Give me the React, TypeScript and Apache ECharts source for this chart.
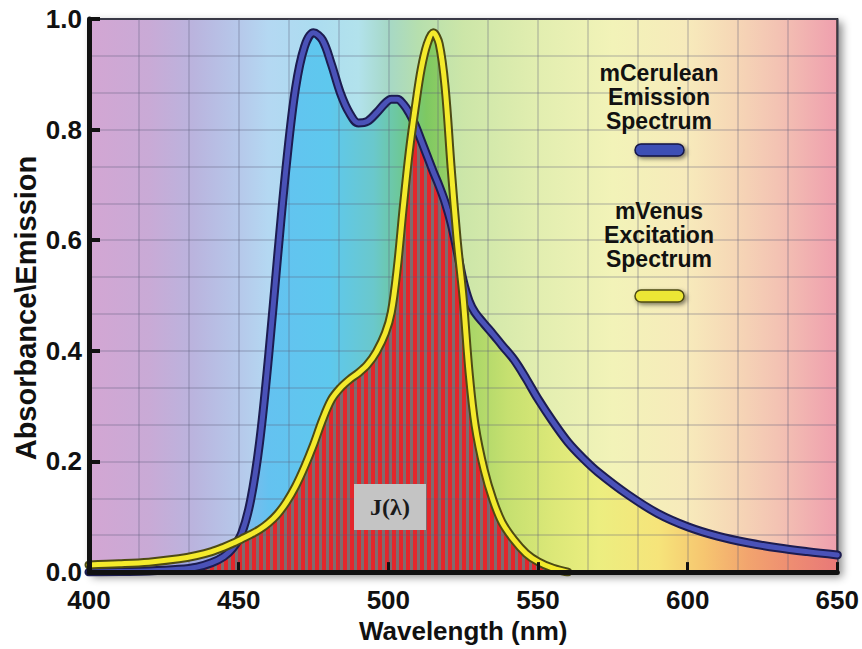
import React, { useEffect, useRef } from "react";
import * as echarts from "echarts";

// Wavelength grid (nm)
const wavelengths = [
  400, 410, 420, 430, 436, 441, 445, 448, 451, 454,
  457, 460, 463, 466, 469, 472, 475, 478, 481, 484,
  487, 490, 493, 496, 499, 501, 503, 505, 507, 509,
  511, 513, 515, 517, 519, 521, 523, 525, 527, 529,
  532, 535, 538, 542, 546, 550, 555, 560, 565, 570,
  580, 590, 600, 610, 620, 630, 640, 650,
];

// mCerulean emission spectrum
const cerulean = [
  0.0, 0.001, 0.002, 0.005, 0.009, 0.017, 0.028, 0.043, 0.07, 0.13,
  0.235, 0.39, 0.57, 0.74, 0.875, 0.95, 0.975, 0.962, 0.918, 0.866,
  0.83, 0.812, 0.815, 0.83, 0.848, 0.855, 0.855, 0.846, 0.83, 0.808,
  0.78, 0.752, 0.724, 0.698, 0.668, 0.63, 0.58, 0.527, 0.49, 0.469,
  0.449, 0.43, 0.41, 0.384, 0.35, 0.313, 0.272, 0.235, 0.206, 0.181,
  0.14, 0.106, 0.082, 0.065, 0.053, 0.044, 0.037, 0.031,
];

// mVenus excitation spectrum
const venus: (number | null)[] = [
  0.013, 0.015, 0.018, 0.024, 0.03, 0.037, 0.045, 0.052, 0.06, 0.068,
  0.077, 0.089, 0.105, 0.127, 0.155, 0.19, 0.23, 0.275, 0.312, 0.333,
  0.348, 0.36, 0.375, 0.398, 0.432, 0.47, 0.55, 0.66, 0.76, 0.84,
  0.91, 0.955, 0.975, 0.955, 0.875, 0.73, 0.6, 0.495, 0.36, 0.265,
  0.185, 0.13, 0.09, 0.058, 0.034, 0.019, 0.007, 0.0, null, null,
  null, null, null, null, null, null, null, null,
];

const yTickLabels = ["0.0", "0.2", "0.4", "0.6", "0.8", "1.0"];
const legendCerulean = "mCerulean\nEmission\nSpectrum";
const legendVenus = "mVenus\nExcitation\nSpectrum";
const overlapLabel = "J(λ)";
const xTitle = "Wavelength (nm)";
const yTitle = "Absorbance\\Emission";

const FONT = '"Liberation Sans", Arial, Helvetica, sans-serif';

export default function App() {
  const ref = useRef<HTMLDivElement>(null);

  useEffect(() => {
    const chart = echarts.init(ref.current!, null, { renderer: "svg" });

    // striped pattern for overlap integral
    const pat = document.createElement("canvas");
    pat.width = 7;
    pat.height = 8;
    const ctx = pat.getContext("2d")!;
    ctx.fillStyle = "#7e6c6f";
    ctx.fillRect(0, 0, 7, 8);
    ctx.fillStyle = "#e3262b";
    ctx.fillRect(0, 0, 4, 8);

    const left = 89;
    const right = 838;

    const paleGrad = new echarts.graphic.LinearGradient(0, 0, 1, 0, [
      { offset: 0.0, color: "#d3a6d3" },
      { offset: 0.08, color: "#c9aad6" },
      { offset: 0.14, color: "#bab4de" },
      { offset: 0.2, color: "#b6c8ea" },
      { offset: 0.24, color: "#b4d8f2" },
      { offset: 0.3, color: "#acdcf0" },
      { offset: 0.36, color: "#b2e2ec" },
      { offset: 0.4, color: "#a6d8c6" },
      { offset: 0.44, color: "#b6dfae" },
      { offset: 0.5, color: "#cce6a8" },
      { offset: 0.6, color: "#e2eeb0" },
      { offset: 0.7, color: "#f2f3b8" },
      { offset: 0.8, color: "#f7eabb" },
      { offset: 0.86, color: "#f6d8b6" },
      { offset: 0.92, color: "#f3c3b3" },
      { offset: 1.0, color: "#ef9fae" },
    ]);

    const satStops = [
      { offset: 0.0, color: "#b898d8" },
      { offset: 0.16, color: "#9aa8e2" },
      { offset: 0.2, color: "#86b8ea" },
      { offset: 0.24, color: "#64c2f0" },
      { offset: 0.32, color: "#5ec8ee" },
      { offset: 0.38, color: "#6ac8cc" },
      { offset: 0.42, color: "#6ec892" },
      { offset: 0.45, color: "#7ec862" },
      { offset: 0.5, color: "#a4d466" },
      { offset: 0.56, color: "#c6e070" },
      { offset: 0.62, color: "#dce878" },
      { offset: 0.68, color: "#ecee80" },
      { offset: 0.76, color: "#f6e47a" },
      { offset: 0.82, color: "#f6c670" },
      { offset: 0.88, color: "#f2a46e" },
      { offset: 0.94, color: "#ee8c72" },
      { offset: 1.0, color: "#e87878" },
    ];
    const satGrad = () =>
      new echarts.graphic.LinearGradient(left, 0, right, 0, satStops, true);

    const cerPairs = wavelengths.map((w, i) => [w, cerulean[i]]);
    const venPairs = wavelengths
      .map((w, i) => [w, venus[i]])
      .filter((p) => p[1] != null);
    const overlapPairs = wavelengths
      .map((w, i) => [w, venus[i] == null ? null : Math.min(cerulean[i], venus[i] as number)])
      .filter((p) => p[1] != null);

    const base = {
      type: "line",
      smooth: 0.35,
      showSymbol: false,
      silent: true,
      xAxisIndex: 0,
      yAxisIndex: 0,
    };

    const labelStyle = {
      fontSize: 26,
      fontWeight: "bold",
      color: "#111",
      fontFamily: FONT,
    };

    const lineBase = { cap: "round", join: "round" };

    chart.setOption({
      animation: false,
      grid: {
        show: true,
        left,
        top: 19,
        width: right - left,
        height: 556,
        backgroundColor: paleGrad,
        borderColor: "#222",
        borderWidth: 2,
        shadowColor: "rgba(0,0,0,0.45)",
        shadowBlur: 8,
        shadowOffsetX: 4,
        shadowOffsetY: 4,
      },
      xAxis: [
        {
          type: "value",
          min: 400,
          max: 650,
          interval: 50,
          z: 4,
          axisLine: { show: true, lineStyle: { color: "#111", width: 5 } },
          axisTick: { show: true, inside: true, length: 10, lineStyle: { color: "#111", width: 3 } },
          axisLabel: { ...labelStyle, margin: 15 },
          splitLine: { show: false },
          name: xTitle,
          nameLocation: "middle",
          nameGap: 44,
          nameTextStyle: { ...labelStyle },
        },
        {
          type: "value",
          min: 400,
          max: 650,
          interval: 50 / 3,
          z: 2,
          axisLine: { show: false },
          axisTick: { show: false },
          axisLabel: { show: false },
          splitLine: { show: true, lineStyle: { color: "rgba(90,90,120,0.24)", width: 2 } },
        },
      ],
      yAxis: [
        {
          type: "value",
          min: 0,
          max: 1,
          interval: 0.2,
          z: 4,
          axisLine: { show: true, lineStyle: { color: "#111", width: 5 } },
          axisTick: { show: true, inside: true, length: 11, lineStyle: { color: "#111", width: 4 } },
          axisLabel: {
            ...labelStyle,
            margin: 7,
            formatter: (v: number) => yTickLabels[Math.round(v / 0.2)],
          },
          splitLine: { show: false },
        },
        {
          type: "value",
          min: 0,
          max: 1,
          interval: 1 / 15,
          z: 2,
          axisLine: { show: false },
          axisTick: { show: false },
          axisLabel: { show: false },
          splitLine: { show: true, lineStyle: { color: "rgba(90,90,120,0.24)", width: 2 } },
        },
      ],
      series: [
        {
          ...base,
          name: "cerulean-area",
          z: 1,
          data: cerPairs,
          lineStyle: { width: 0 },
          areaStyle: { color: satGrad(), opacity: 1 },
        },
        {
          ...base,
          name: "venus-area",
          z: 1,
          data: venPairs,
          lineStyle: { width: 0 },
          areaStyle: { color: satGrad(), opacity: 1 },
        },
        {
          ...base,
          name: "overlap",
          z: 1,
          data: overlapPairs,
          lineStyle: { width: 0 },
          areaStyle: { color: { image: pat, repeat: "repeat" }, opacity: 1 },
        },
        {
          ...base,
          name: "mCerulean outline",
          z: 3,
          data: cerPairs,
          lineStyle: { ...lineBase, color: "#1c1c50", width: 9 },
        },
        {
          ...base,
          name: "mCerulean Emission Spectrum",
          z: 3,
          data: cerPairs,
          lineStyle: { ...lineBase, color: "#4a52b8", width: 5 },
        },
        {
          ...base,
          name: "mVenus outline",
          z: 3,
          data: venPairs,
          lineStyle: { ...lineBase, color: "#4d4a14", width: 9 },
        },
        {
          ...base,
          name: "mVenus Excitation Spectrum",
          z: 3,
          data: venPairs,
          lineStyle: { ...lineBase, color: "#f4ea2c", width: 5 },
        },
      ],
      graphic: [
        {
          type: "text",
          x: 26,
          y: 308,
          rotation: Math.PI / 2,
          z: 10,
          style: {
            text: yTitle,
            font: `bold 29px ${FONT}`,
            fill: "#111",
            align: "center",
            verticalAlign: "middle",
          },
        },
        {
          type: "text",
          x: 659,
          y: 61,
          z: 10,
          style: {
            text: legendCerulean,
            font: `bold 23px ${FONT}`,
            lineHeight: 24,
            fill: "#111",
            align: "center",
            verticalAlign: "top",
          },
        },
        {
          type: "rect",
          z: 10,
          shape: { x: 635, y: 144, width: 49, height: 12, r: 6 },
          style: {
            fill: "#3d50b5",
            stroke: "#151545",
            lineWidth: 1.5,
            shadowBlur: 4,
            shadowColor: "rgba(0,0,0,0.5)",
            shadowOffsetX: 2,
            shadowOffsetY: 2,
          },
        },
        {
          type: "text",
          x: 659,
          y: 199,
          z: 10,
          style: {
            text: legendVenus,
            font: `bold 23px ${FONT}`,
            lineHeight: 24,
            fill: "#111",
            align: "center",
            verticalAlign: "top",
          },
        },
        {
          type: "rect",
          z: 10,
          shape: { x: 635, y: 290, width: 49, height: 12, r: 6 },
          style: {
            fill: "#ece634",
            stroke: "#4d4a14",
            lineWidth: 1.5,
            shadowBlur: 4,
            shadowColor: "rgba(0,0,0,0.5)",
            shadowOffsetX: 2,
            shadowOffsetY: 2,
          },
        },
        {
          type: "rect",
          z: 10,
          shape: { x: 354, y: 484, width: 72, height: 46 },
          style: { fill: "#c4c4c4" },
        },
        {
          type: "text",
          x: 390,
          y: 507,
          z: 11,
          style: {
            text: overlapLabel,
            font: 'bold 24px "Liberation Serif", "DejaVu Serif", serif',
            fill: "#1a1a1a",
            align: "center",
            verticalAlign: "middle",
          },
        },
      ],
    });

    return () => chart.dispose();
  }, []);

  return (
    <div
      ref={ref}
      style={{ position: "fixed", left: 0, top: 0, width: 862, height: 649, background: "#fff" }}
    />
  );
}
